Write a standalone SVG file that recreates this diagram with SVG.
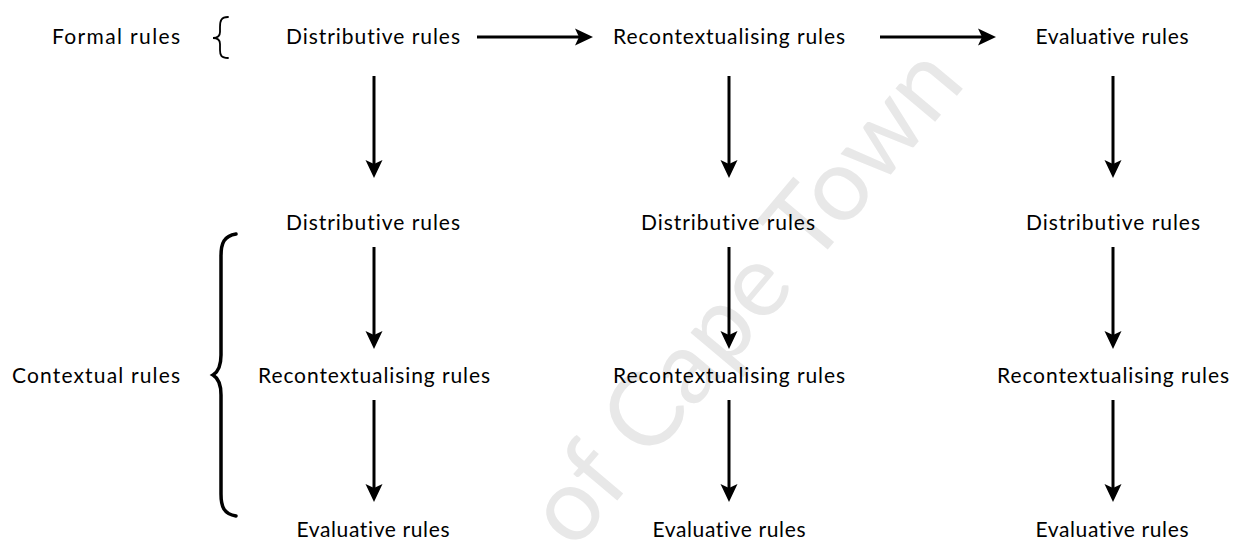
<svg xmlns="http://www.w3.org/2000/svg" width="1239" height="542" viewBox="0 0 1239 542">
<style>
.t{font-family:Lato,"Open Sans","Liberation Sans",sans-serif;font-size:21px;fill:#000;text-anchor:middle;font-variant-ligatures:none}
.c{stroke:#000;stroke-width:3;fill:none;marker-end:url(#ah)}
.b{stroke:#000;fill:none;stroke-linecap:round}
.wm{font-family:Lato,"Open Sans","Liberation Sans",sans-serif;font-size:102px;font-weight:400;fill:#e8e8e8;font-variant-ligatures:none}
</style>
<defs>
<marker id="ah" viewBox="-11 -9 20 18" refX="0" refY="0" markerWidth="20" markerHeight="18" markerUnits="userSpaceOnUse" orient="auto">
<path d="M8,0 L-10,-8.5 L-6,0 L-10,8.5 Z" fill="#000"/>
</marker>
</defs>
<rect width="1239" height="542" fill="#fff"/>
<g id="watermark"><text class="wm" x="574" y="552" transform="rotate(-50 574 552)">of Cape Town</text></g>
<g id="connectors">
<line class="c" x1="477" y1="37" x2="585" y2="37"/>
<line class="c" x1="880" y1="37" x2="988" y2="37"/>
<line class="c" x1="374" y1="76" x2="374" y2="170"/>
<line class="c" x1="729" y1="76" x2="729" y2="170"/>
<line class="c" x1="1113" y1="76" x2="1113" y2="170"/>
<line class="c" x1="374" y1="247" x2="374" y2="341"/>
<line class="c" x1="729" y1="247" x2="729" y2="341"/>
<line class="c" x1="1113" y1="247" x2="1113" y2="341"/>
<line class="c" x1="374" y1="400" x2="374" y2="494"/>
<line class="c" x1="729" y1="400" x2="729" y2="494"/>
<line class="c" x1="1113" y1="400" x2="1113" y2="494"/>
</g>
<g id="braces">
<path class="b" stroke-width="1.8" d="M228,17 C221,17 220,21 220,27 L220,32 C220,36 217,38 213,38 C217,38 220,40 220,44 L220,50 C220,55 221,58 228,58"/>
<path class="b" stroke-width="3.5" d="M236,234 C224,236 221,243 221,256 L221,355 C221,366 218,372 213,375 C218,378 221,384 221,395 L221,494 C221,507 224,514 236,516"/>
</g>
<g id="formal-label"><text class="t" x="116" y="44" textLength="128">Formal rules</text></g>
<g id="contextual-label"><text class="t" x="96" y="383" textLength="168">Contextual rules</text></g>
<g id="f-dist"><text class="t" x="373" y="44" textLength="174">Distributive rules</text></g>
<g id="f-recon"><text class="t" x="729" y="44" textLength="232">Recontextualising rules</text></g>
<g id="f-eval"><text class="t" x="1112" y="44" textLength="153">Evaluative rules</text></g>
<g id="c1-dist"><text class="t" x="373" y="230" textLength="174">Distributive rules</text></g>
<g id="c2-dist"><text class="t" x="728" y="230" textLength="174">Distributive rules</text></g>
<g id="c3-dist"><text class="t" x="1113" y="230" textLength="174">Distributive rules</text></g>
<g id="c1-recon"><text class="t" x="374" y="383" textLength="232">Recontextualising rules</text></g>
<g id="c2-recon"><text class="t" x="729" y="383" textLength="232">Recontextualising rules</text></g>
<g id="c3-recon"><text class="t" x="1113" y="383" textLength="232">Recontextualising rules</text></g>
<g id="c1-eval"><text class="t" x="373" y="537" textLength="153">Evaluative rules</text></g>
<g id="c2-eval"><text class="t" x="729" y="537" textLength="153">Evaluative rules</text></g>
<g id="c3-eval"><text class="t" x="1112" y="537" textLength="153">Evaluative rules</text></g>
</svg>
